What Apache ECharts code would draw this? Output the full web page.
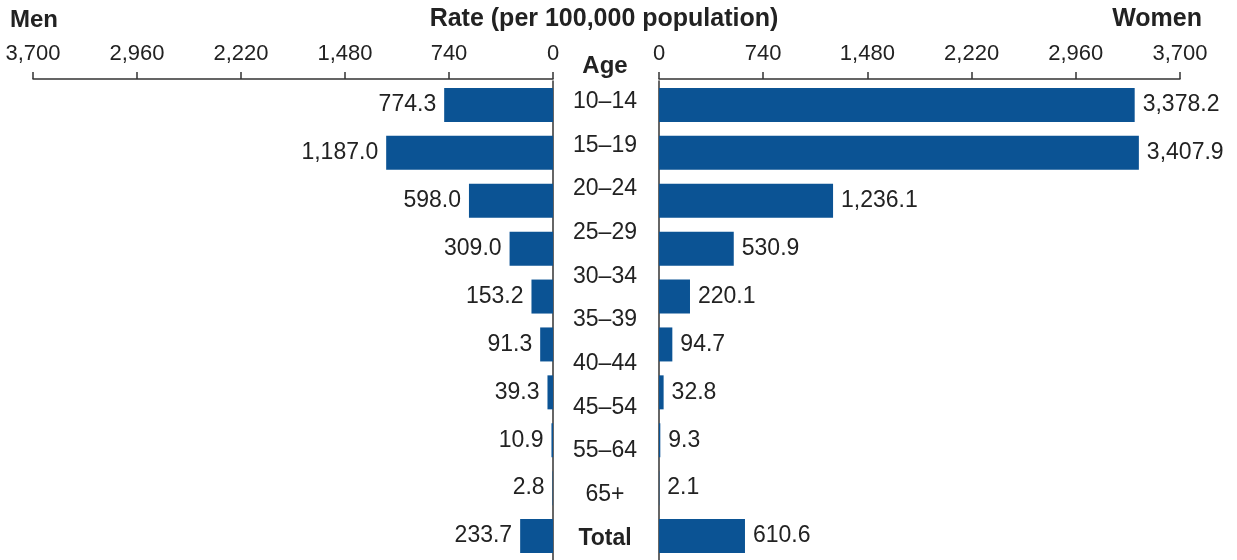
<!DOCTYPE html>
<html>
<head>
<meta charset="utf-8">
<script src="https://cdn.jsdelivr.net/npm/echarts@6/dist/echarts.min.js"></script>
<style>
html,body{margin:0;padding:0;background:#fff;}
#chart{width:1237px;height:560px;}
</style>
</head>
<body>
<div id="chart"></div>
<script>
// Bar rows (as drawn in the reference, top to bottom)
const rowKeys = ['15–19','20–24','25–29','30–34','35–39','40–44','45–54','55–64','65+','Total'];
const menRates = [774.3, 1187.0, 598.0, 309.0, 153.2, 91.3, 39.3, 10.9, 2.8, 233.7];
const womenRates = [3378.2, 3407.9, 1236.1, 530.9, 220.1, 94.7, 32.8, 9.3, 2.1, 610.6];
// Centre column age labels (as printed in the reference)
const ageLabels = ['10–14','15–19','20–24','25–29','30–34','35–39','40–44','45–54','55–64','65+','Total'];
// Axis scale
const axisMin = 0, axisMax = 3700, axisInterval = 740;

const FONT = '"Liberation Sans", Arial, sans-serif';
const TXT = '#222';
const BAR = '#0b5394';

const fmtVal = v => v.toLocaleString('en-US', {minimumFractionDigits: 1, maximumFractionDigits: 1});
const fmtTick = v => v.toLocaleString('en-US');

const chart = echarts.init(document.getElementById('chart'), null, {renderer: 'canvas'});

const xCommon = {
  type: 'value', min: axisMin, max: axisMax, interval: axisInterval,
  position: 'top', offset: 2,
  axisLine: {show: true, lineStyle: {color: '#333', width: 1.5}},
  axisTick: {show: true, length: 7, lineStyle: {color: '#333', width: 1.5}},
  axisLabel: {fontFamily: FONT, fontSize: 22, color: TXT, margin: 14, formatter: fmtTick},
  splitLine: {show: false}
};

chart.setOption({
  backgroundColor: '#fff',
  animation: false,
  title: [
    {text: 'Men', left: 10, top: 8, padding: 0,
     textStyle: {fontFamily: FONT, fontSize: 24, fontWeight: 'bold', color: TXT}},
    {text: 'Rate (per 100,000 population)', left: 604, top: 7, padding: 0, textAlign: 'center',
     textStyle: {fontFamily: FONT, fontSize: 25, fontWeight: 'bold', color: TXT}},
    {text: 'Women', right: 35, top: 7, padding: 0,
     textStyle: {fontFamily: FONT, fontSize: 25, fontWeight: 'bold', color: TXT}},
    {text: 'Age', left: 605, top: 54, padding: 0, textAlign: 'center',
     textStyle: {fontFamily: FONT, fontSize: 24, fontWeight: 'bold', color: TXT}}
  ],
  grid: [
    {left: 33, width: 520, top: 81, height: 481},
    {left: 659, width: 521, top: 81, height: 481},
    {left: 605, width: 1, top: 80, height: 482}
  ],
  xAxis: [
    Object.assign({gridIndex: 0, inverse: true}, xCommon),
    Object.assign({gridIndex: 1}, xCommon),
    {gridIndex: 2, type: 'value', show: false}
  ],
  yAxis: [
    {gridIndex: 0, type: 'category', data: rowKeys, inverse: true, position: 'right',
     axisLine: {show: true, lineStyle: {color: '#333', width: 1.5}},
     axisTick: {show: false}, axisLabel: {show: false}},
    {gridIndex: 1, type: 'category', data: rowKeys, inverse: true, position: 'left',
     axisLine: {show: true, lineStyle: {color: '#333', width: 1.5}},
     axisTick: {show: false}, axisLabel: {show: false}},
    {gridIndex: 2, type: 'category', data: ageLabels, inverse: true, position: 'left',
     axisLine: {show: false}, axisTick: {show: false},
     axisLabel: {
       margin: 0, align: 'center', fontFamily: FONT, fontSize: 23, color: TXT,
       formatter: v => v === 'Total' ? '{b|' + v + '}' : v,
       rich: {b: {fontFamily: FONT, fontSize: 23, fontWeight: 'bold', color: TXT}}
     }}
  ],
  series: [
    {type: 'bar', name: 'Men', xAxisIndex: 0, yAxisIndex: 0, data: menRates, barWidth: 34,
     itemStyle: {color: BAR},
     label: {show: true, position: 'left', distance: 8, fontFamily: FONT, fontSize: 23, color: TXT,
             formatter: p => fmtVal(p.value)}},
    {type: 'bar', name: 'Women', xAxisIndex: 1, yAxisIndex: 1, data: womenRates, barWidth: 34,
     itemStyle: {color: BAR},
     label: {show: true, position: 'right', distance: 8, fontFamily: FONT, fontSize: 23, color: TXT,
             formatter: p => fmtVal(p.value)}}
  ]
});
</script>
</body>
</html>
